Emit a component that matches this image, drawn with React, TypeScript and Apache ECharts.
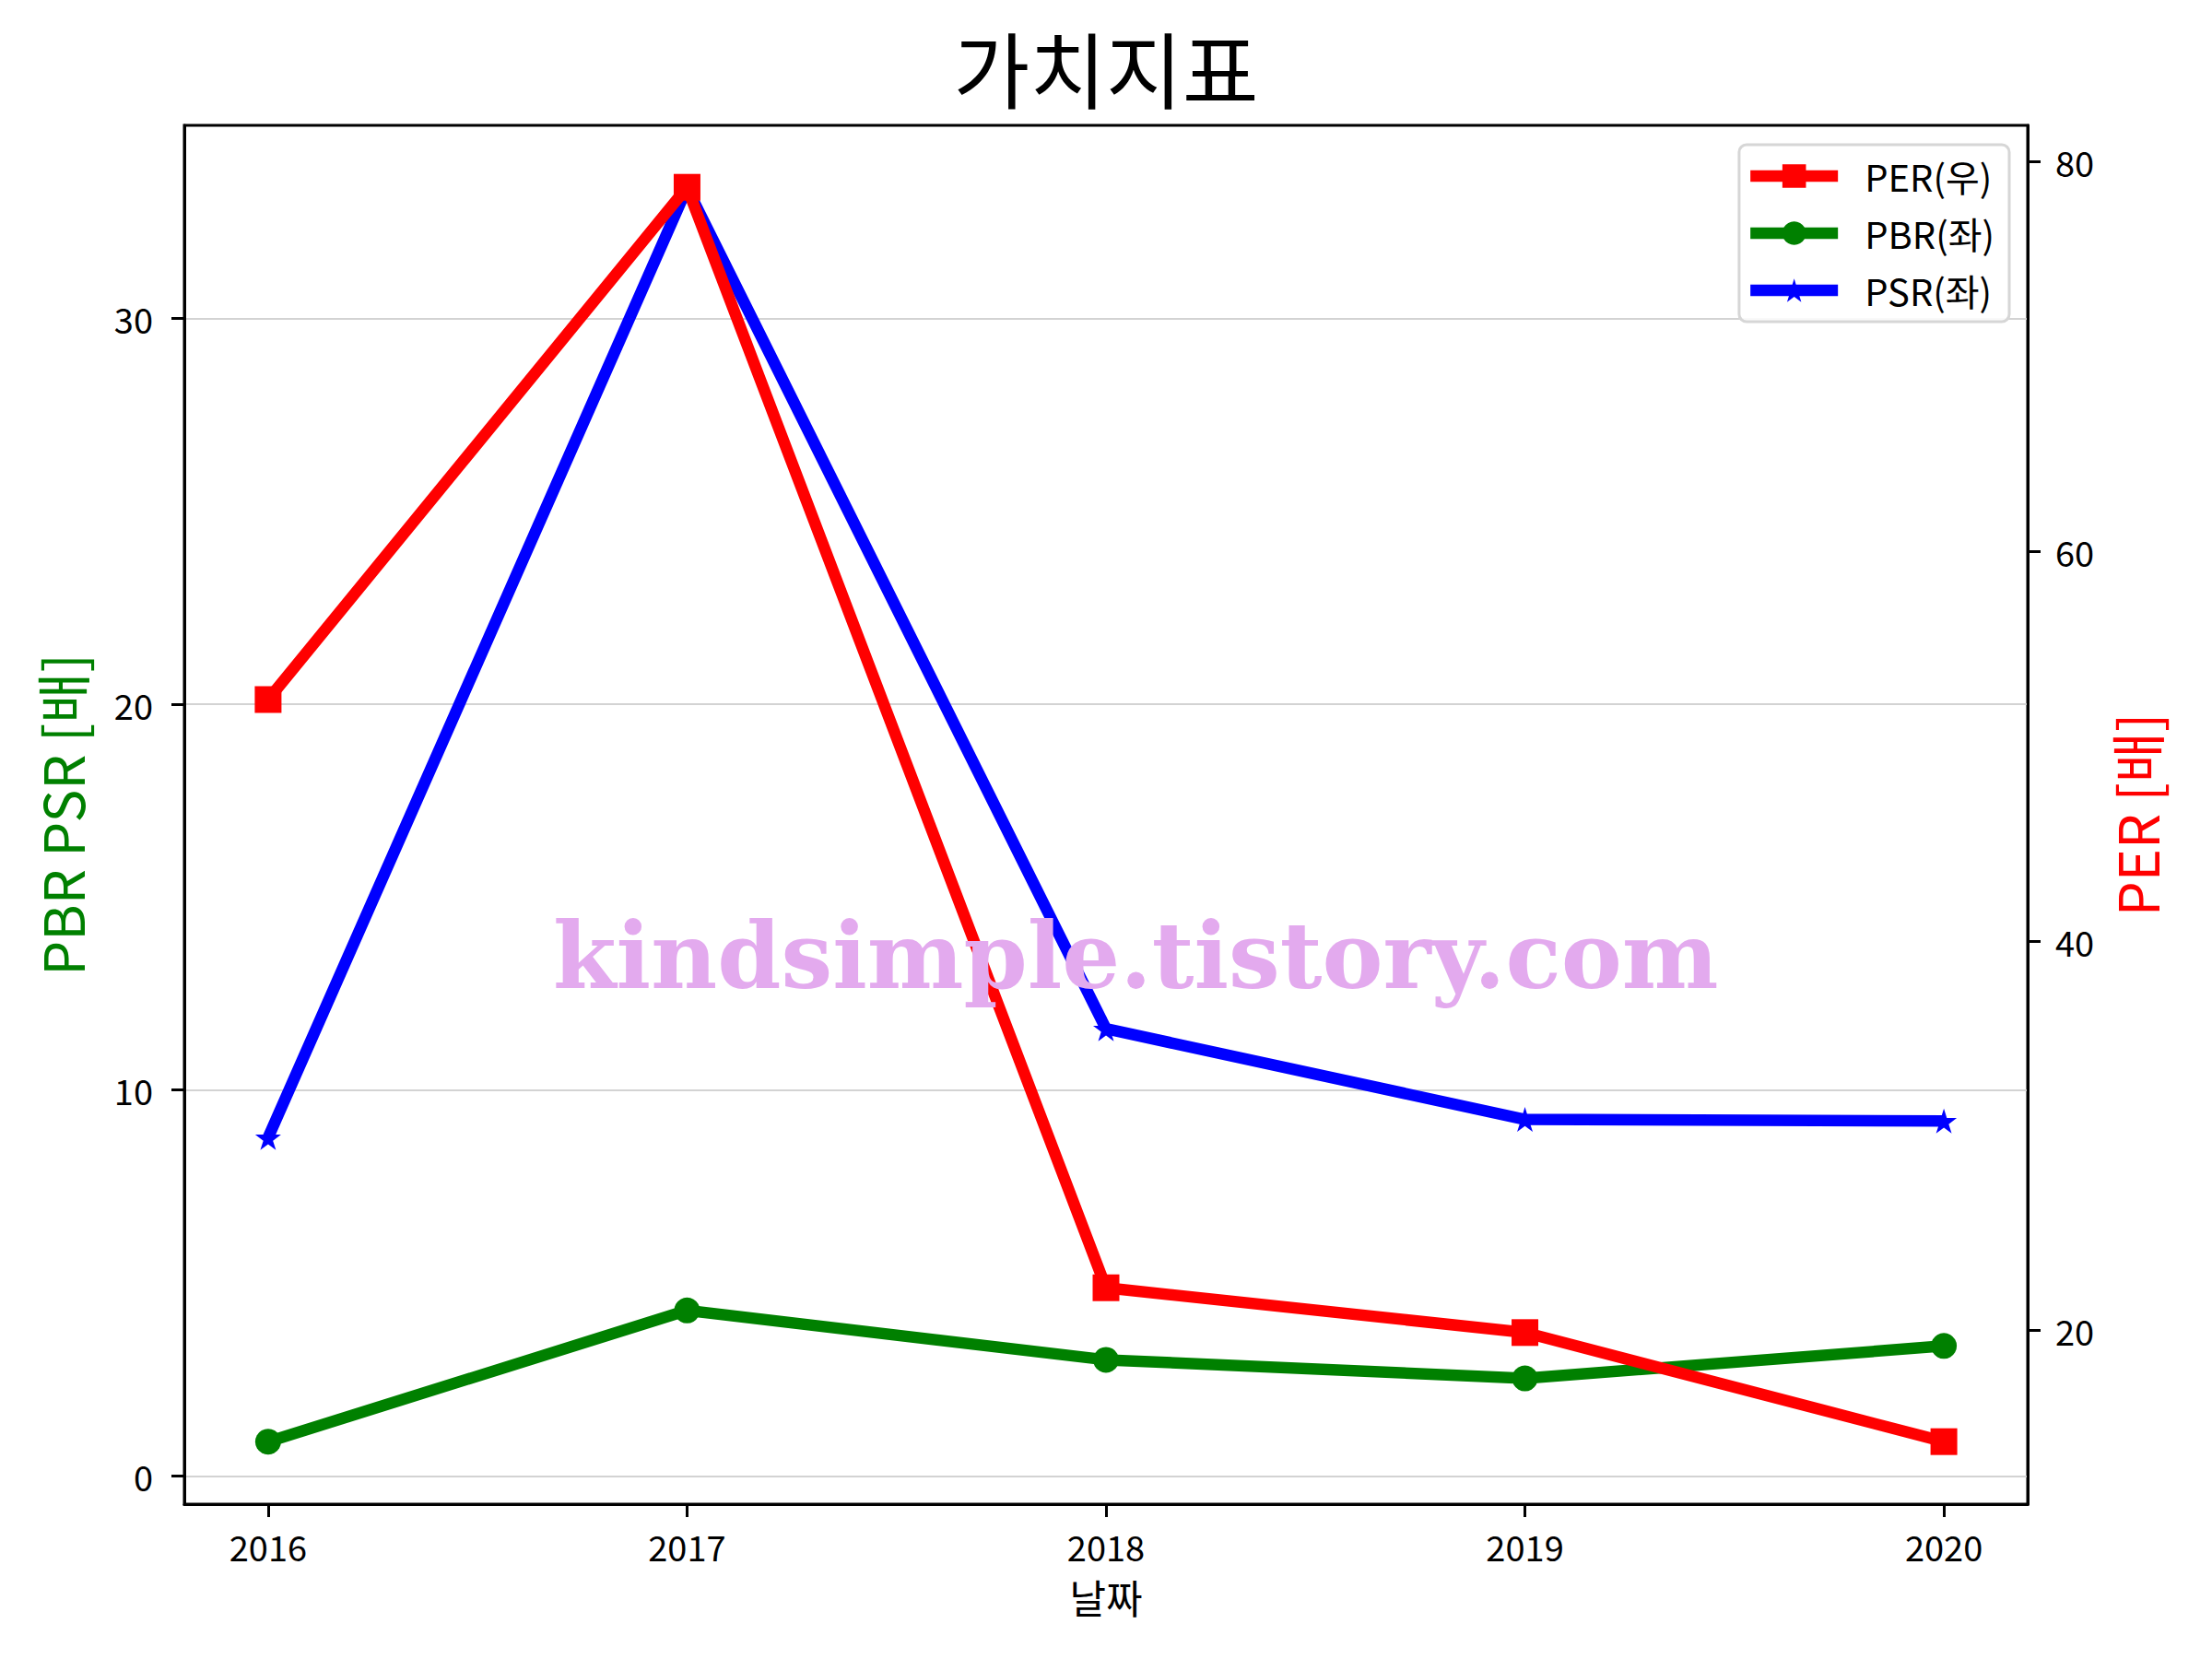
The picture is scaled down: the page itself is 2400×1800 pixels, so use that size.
import React, { useEffect, useRef } from "react";
import * as echarts from "echarts";

const chartTitle = "가치지표";
const years = [2016, 2017, 2018, 2019, 2020];
const perValues = [52.4, 78.7, 22.2, 19.9, 14.3];
const pbrValues = [0.89, 4.29, 3.01, 2.53, 3.37];
const psrValues = [8.77, 33.38, 11.59, 9.24, 9.2];
const leftTicks = [0, 10, 20, 30];
const rightTicks = [20, 40, 60, 80];
const seriesNames = ["PER(우)", "PBR(좌)", "PSR(좌)"];
const watermark = "kindsimple.tistory.com";

const FONT = "'Noto Sans CJK KR', 'Noto Sans', sans-serif";
const STAR =
  "path://M50,0 L61,35 L98,35 L68,57 L79,91 L50,70 L21,91 L32,57 L2,35 L39,35 Z";

export default function App() {
  const ref = useRef<HTMLDivElement>(null);
  useEffect(() => {
    if (!ref.current) return;
    const chart = echarts.init(ref.current, undefined, { renderer: "svg" });
    const pair = (vals: number[]) => years.map((y, i) => [y, vals[i]]);
    const tickLen = 14;
    chart.setOption({
      animation: false,
      backgroundColor: "#ffffff",
      textStyle: { fontFamily: FONT },
      title: {
        text: chartTitle,
        left: "center",
        top: 22,
        textStyle: { fontFamily: FONT, fontSize: 90, fontWeight: "normal", color: "#000" },
      },
      grid: {
        left: 200,
        right: 200,
        top: 136,
        bottom: 168,
        show: true,
        borderColor: "#000",
        borderWidth: 3,
        backgroundColor: "transparent",
      },
      legend: {
        data: seriesNames,
        orient: "vertical",
        right: 220,
        top: 157,
        padding: [14, 16, 14, 6],
        itemWidth: 95,
        itemHeight: 32,
        itemGap: 22,
        backgroundColor: "rgba(255,255,255,0.85)",
        borderColor: "#d6d6d6",
        borderWidth: 3,
        borderRadius: 8,
        lineStyle: { width: 12.5 },
        textStyle: { fontFamily: FONT, fontSize: 40, color: "#000", padding: [0, 0, 0, 24] },
      },
      xAxis: {
        type: "value",
        min: 2015.8,
        max: 2020.2,
        name: "날짜",
        nameLocation: "middle",
        nameGap: 78,
        nameTextStyle: { fontFamily: FONT, fontSize: 43, color: "#000" },
        axisLine: { show: true, onZero: false, lineStyle: { color: "#000", width: 3 } },
        axisTick: { show: true, length: tickLen, lineStyle: { color: "#000", width: 3 }, customValues: years },
        axisLabel: {
          fontFamily: FONT,
          fontSize: 38,
          color: "#000",
          margin: 26,
          customValues: years,
          formatter: (v: number) => String(v),
        },
        splitLine: { show: false },
      },
      yAxis: [
        {
          type: "value",
          position: "left",
          min: -0.73,
          max: 35.0,
          name: "PBR PSR [배]",
          nameLocation: "middle",
          nameGap: 105,
          nameTextStyle: { fontFamily: FONT, fontSize: 60, color: "#008000" },
          axisLine: { show: true, onZero: false, lineStyle: { color: "#000", width: 3 } },
          axisTick: { show: true, length: tickLen, lineStyle: { color: "#000", width: 3 }, customValues: leftTicks },
          axisLabel: {
            fontFamily: FONT,
            fontSize: 38,
            color: "#000",
            margin: 34,
            customValues: leftTicks,
            formatter: (v: number) => String(v),
          },
          splitLine: { show: true, lineStyle: { color: "#d3d3d3", width: 2 } },
        },
        {
          type: "value",
          position: "right",
          min: 11.09,
          max: 81.88,
          name: "PER [배]",
          nameLocation: "middle",
          nameGap: 86,
          nameTextStyle: { fontFamily: FONT, fontSize: 60, color: "#ff0000" },
          axisLine: { show: true, onZero: false, lineStyle: { color: "#000", width: 3 } },
          axisTick: { show: true, length: tickLen, lineStyle: { color: "#000", width: 3 }, customValues: rightTicks },
          axisLabel: {
            fontFamily: FONT,
            fontSize: 38,
            color: "#000",
            margin: 30,
            customValues: rightTicks,
            formatter: (v: number) => String(v),
          },
          splitLine: { show: false },
        },
      ],
      series: [
        {
          name: seriesNames[1],
          type: "line",
          yAxisIndex: 0,
          data: pair(pbrValues),
          symbol: "circle",
          symbolSize: 28,
          showAllSymbol: true,
          lineStyle: { color: "#008000", width: 12.5 },
          itemStyle: { color: "#008000" },
          z: 2,
        },
        {
          name: seriesNames[2],
          type: "line",
          yAxisIndex: 0,
          data: pair(psrValues),
          symbol: STAR,
          symbolSize: [28, 27],
          showAllSymbol: true,
          lineStyle: { color: "#0000ff", width: 12.5 },
          itemStyle: { color: "#0000ff" },
          z: 3,
        },
        {
          name: seriesNames[0],
          type: "line",
          yAxisIndex: 1,
          data: pair(perValues),
          symbol: "rect",
          symbolSize: 29,
          showAllSymbol: true,
          lineStyle: { color: "#ff0000", width: 12.5 },
          itemStyle: { color: "#ff0000" },
          z: 4,
        },
      ],
      graphic: [
        {
          type: "text",
          left: 600,
          top: 987,
          z: 100,
          silent: true,
          style: {
            text: watermark,
            font: "bold 99px 'DejaVu Serif', serif",
            fill: "rgb(227,170,238)",
          },
        },
      ],
    });
    return () => chart.dispose();
  }, []);
  return (
    <div
      ref={ref}
      style={{ position: "fixed", left: 0, top: 0, width: 2400, height: 1800, background: "#fff" }}
    />
  );
}
